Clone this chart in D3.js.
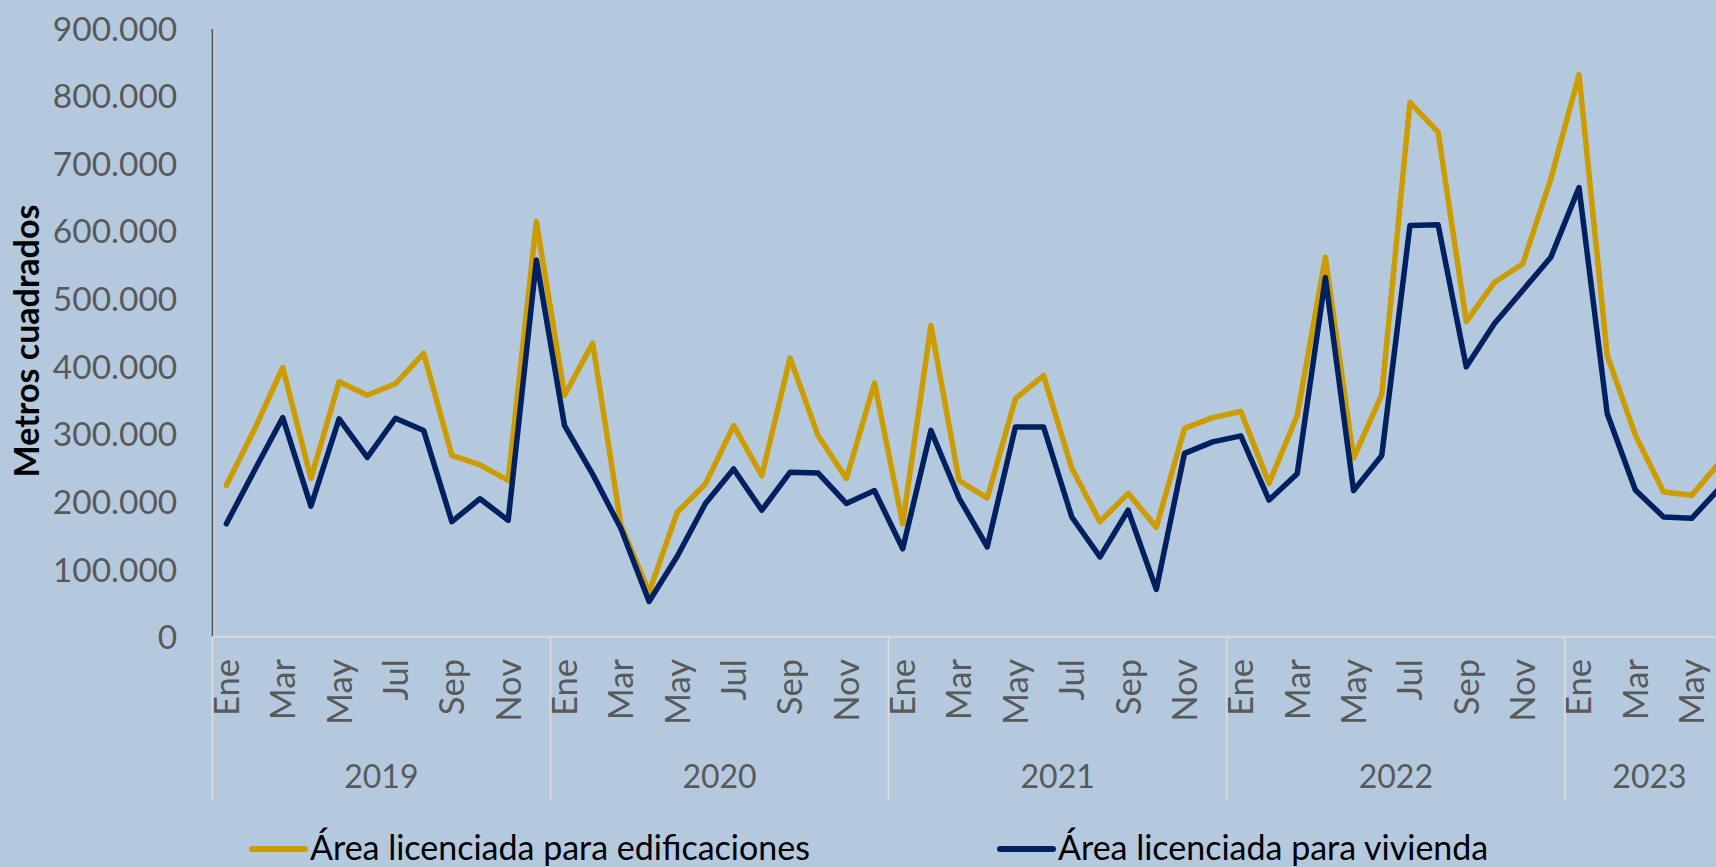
<!DOCTYPE html>
<html>
<head>
<meta charset="utf-8">
<script src="https://cdn.jsdelivr.net/npm/d3@7"></script>
<style>
  html, body { margin: 0; padding: 0; background: #b4c9de; }
  svg { display: block; }
  text { font-family: Lato, "Open Sans", sans-serif; }
</style>
</head>
<body>
<svg id="chart" width="1716" height="867"></svg>
<script>
// ---- Data ----
const years = ["2019", "2020", "2021", "2022", "2023"];
const monthsPerYear = [12, 12, 12, 12, 6];
const monthNames = ["Ene","Feb","Mar","Abr","May","Jun","Jul","Ago","Sep","Oct","Nov","Dic"];
const shownMonths = ["Ene","Mar","May","Jul","Sep","Nov"];
const yTicks = [0, 100000, 200000, 300000, 400000, 500000, 600000, 700000, 800000, 900000];
const seriesNames = ["Área licenciada para edificaciones", "Área licenciada para vivienda"];

// thousands of m²
const edificaciones = [
  224, 307, 398, 234, 377, 357, 374, 419, 268, 254, 231, 614,
  357, 434, 165, 66, 184, 226, 312, 238, 412, 297, 234, 375,
  167, 460, 231, 205, 352, 386, 249, 170, 212, 162, 308, 324,
  333, 227, 327, 561, 264, 358, 790, 746, 466, 524, 551, 677,
  831, 416, 298, 214, 209, 258
];
const vivienda = [
  167, 246, 324, 193, 322, 265, 323, 305, 170, 204, 172, 557,
  312, 240, 160, 52, 119, 197, 248, 187, 243, 242, 197, 216,
  130, 305, 205, 133, 310, 310, 177, 118, 187, 70, 271, 288,
  297, 202, 241, 531, 216, 268, 608, 609, 399, 463, 512, 561,
  664, 330, 217, 177, 175, 220
];

// ---- Build categories ----
const cats = [];
years.forEach((y, yi) => {
  for (let m = 0; m < monthsPerYear[yi]; m++) cats.push({ year: y, month: monthNames[m], key: y + "-" + m });
});

const colors = ["#cc9c00", "#002060"];
const svg = d3.select("#chart");
const W = 1716, H = 867;

const x = d3.scaleBand().domain(cats.map(d => d.key)).range([212.3, 1734]).padding(0);
const y = d3.scaleLinear().domain([0, 900000]).range([636.7, 28]);

const loc = d3.formatLocale({ decimal: ",", thousands: ".", grouping: [3], currency: ["$", ""] });
const fmt = loc.format(",");

// Y axis labels
const yAxis = d3.axisLeft(y).tickValues(yTicks).tickSize(0).tickPadding(35).tickFormat(fmt);
const gy = svg.append("g").attr("transform", "translate(212.3,0)").call(yAxis);
gy.select(".domain").remove();
gy.selectAll("text").attr("fill", "#595959").style("font-size", "33.5px").attr("dy", "0.36em");

// y-axis line
svg.append("line").attr("x1", 212.3).attr("x2", 212.3).attr("y1", y(900000) + 1).attr("y2", y(0))
  .attr("stroke", "#404040").attr("stroke-width", 1.2);

// X axis line
svg.append("line").attr("x1", 212.3).attr("x2", W).attr("y1", y(0)).attr("y2", y(0))
  .attr("stroke", "#d9d9d9").attr("stroke-width", 2);

// Year separators and year labels
let idx = 0;
const bounds = [];
years.forEach((yr, yi) => {
  const start = x(cats[idx].key);
  const endKey = cats[idx + monthsPerYear[yi] - 1].key;
  const end = x(endKey) + x.bandwidth();
  bounds.push({ yr, start, end });
  idx += monthsPerYear[yi];
});
bounds.forEach(b => {
  svg.append("line").attr("x1", b.start).attr("x2", b.start).attr("y1", y(0)).attr("y2", 800)
    .attr("stroke", "#d9d9d9").attr("stroke-width", 2);
  svg.append("text").attr("x", (b.start + b.end) / 2).attr("y", 776.5).attr("dy", "0.36em")
    .attr("text-anchor", "middle").attr("fill", "#595959").style("font-size", "32px").text(b.yr);
});

// Month labels
const monthKeys = cats.filter(d => shownMonths.includes(d.month));
svg.append("g").selectAll("text").data(monthKeys).join("text")
  .attr("transform", d => `translate(${x(d.key) + x.bandwidth() / 2},659) rotate(-90)`)
  .attr("text-anchor", "end").attr("dy", "0.36em")
  .attr("fill", "#595959").style("font-size", "34.5px")
  .text(d => d.month);

// Lines
const series = [edificaciones, vivienda];
const line = d3.line()
  .x((d, i) => x(cats[i].key) + x.bandwidth() / 2)
  .y(d => y(d * 1000));
series.forEach((s, si) => {
  svg.append("path").datum(s).attr("d", line).attr("fill", "none")
    .attr("stroke", colors[si]).attr("stroke-width", 5.5)
    .attr("stroke-linejoin", "round").attr("stroke-linecap", "round");
});

// Y title
svg.append("text").attr("transform", "translate(27,341) rotate(-90)")
  .attr("text-anchor", "middle").attr("dy", "0.36em")
  .attr("fill", "#000").style("font-size", "34px").style("font-weight", "bold")
  .text("Metros cuadrados");

// Legend
const legendPos = [{ x1: 252, x2: 305, tx: 310 }, { x1: 1000, x2: 1053, tx: 1058 }];
seriesNames.forEach((n, i) => {
  const p = legendPos[i];
  svg.append("line").attr("x1", p.x1).attr("x2", p.x2).attr("y1", 849).attr("y2", 849)
    .attr("stroke", colors[i]).attr("stroke-width", 6).attr("stroke-linecap", "round");
  svg.append("text").attr("x", p.tx).attr("y", 859.5).attr("fill", "#000")
    .style("font-size", "34px").text(n);
});
</script>
</body>
</html>
